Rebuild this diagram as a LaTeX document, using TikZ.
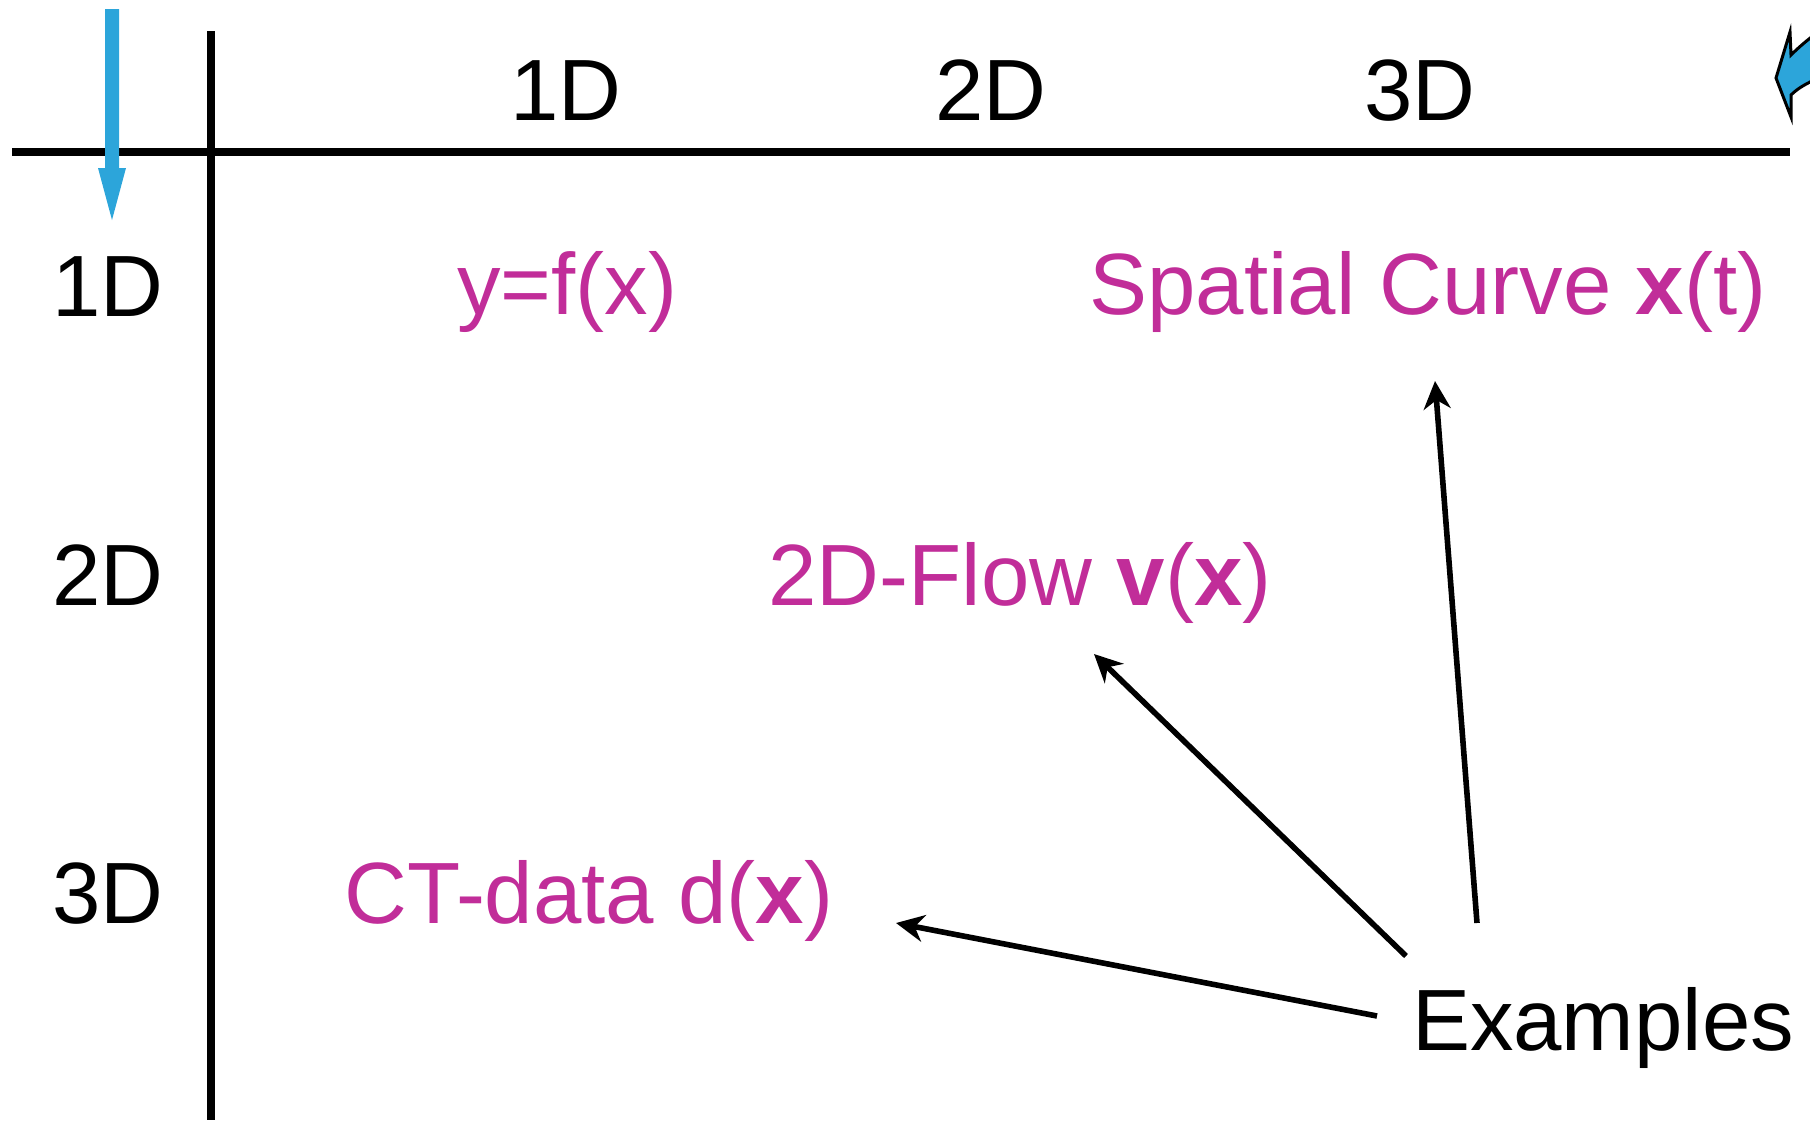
\documentclass[tikz,border=0pt]{standalone}
\usepackage{fontspec}
\setmainfont{Liberation Sans}
\usetikzlibrary{arrows.meta}
\definecolor{pinkish}{RGB}{193,45,153}
\definecolor{bluish}{RGB}{44,165,218}
\tikzset{
  lbl/.style={inner sep=0pt, anchor=base, font=\fontsize{43.5}{52}\selectfont},
  ex/.style={lbl, text=pinkish},
  axis/.style={line width=4pt},
  pointer/.style={line width=2.8pt, -{Stealth[length=14pt, width=13.5pt, inset=4.5pt]}}
}
\begin{document}
\begin{tikzpicture}[x=0.5pt, y=-0.5pt]
\useasboundingbox (0,0) rectangle (1810,1120);
% axes
\coordinate (hl) at (12,152);
\coordinate (hr) at (1790,152);
\coordinate (vt) at (211,31);
\coordinate (vb) at (211,1120);
\draw[axis] (hl) -- (hr);
\draw[axis] (vt) -- (vb);
% blue down arrow
\fill[bluish] (105,9) -- (119,9) -- (119,168) -- (126,168) -- (112,220) -- (98,168) -- (105,168) -- cycle;
% partial blue curved arrow at top right
\begin{scope}
\clip (1700,0) rectangle (1810,160);
\filldraw[fill=bluish, draw=black, line width=1.5pt, line join=miter]
  (1814,35) .. controls (1805,42) and (1798,48) .. (1791,55) -- (1790,32) -- (1776,78) -- (1791,117) -- (1791,95)
  .. controls (1798,88) and (1806,84) .. (1814,80) -- cycle;
\end{scope}
% headers
\node[lbl] (c1) at (566,120) {1D};
\node[lbl] (c2) at (991,120) {2D};
\node[lbl] (c3) at (1420,120) {3D};
\node[lbl] (r1) at (108,316) {1D};
\node[lbl] (r2) at (108,605) {2D};
\node[lbl] (r3) at (108,923) {3D};
% examples
\node[ex] (yfx) at (567,314) {y=f(x)};
\node[ex] (curve) at (1428,314) {Spatial Curve \textbf{x}(t)};
\node[ex] (flow) at (1020,605) {2D-Flow \textbf{v}(\textbf{x})};
\node[ex] (ct) at (589,923) {CT-data d(\textbf{x})};
\node[lbl] (examples) at (1603,1050) {Examples};
% pointers
\coordinate (s1) at (1477,923);
\coordinate (s2) at (1406,956);
\coordinate (s3) at (1377,1016);
\coordinate (t1) at (1435,381);
\coordinate (t2) at (1094,654);
\coordinate (t3) at (896,923);
\draw[pointer] (s1) -- (t1);
\draw[pointer] (s2) -- (t2);
\draw[pointer] (s3) -- (t3);
\end{tikzpicture}
\end{document}
